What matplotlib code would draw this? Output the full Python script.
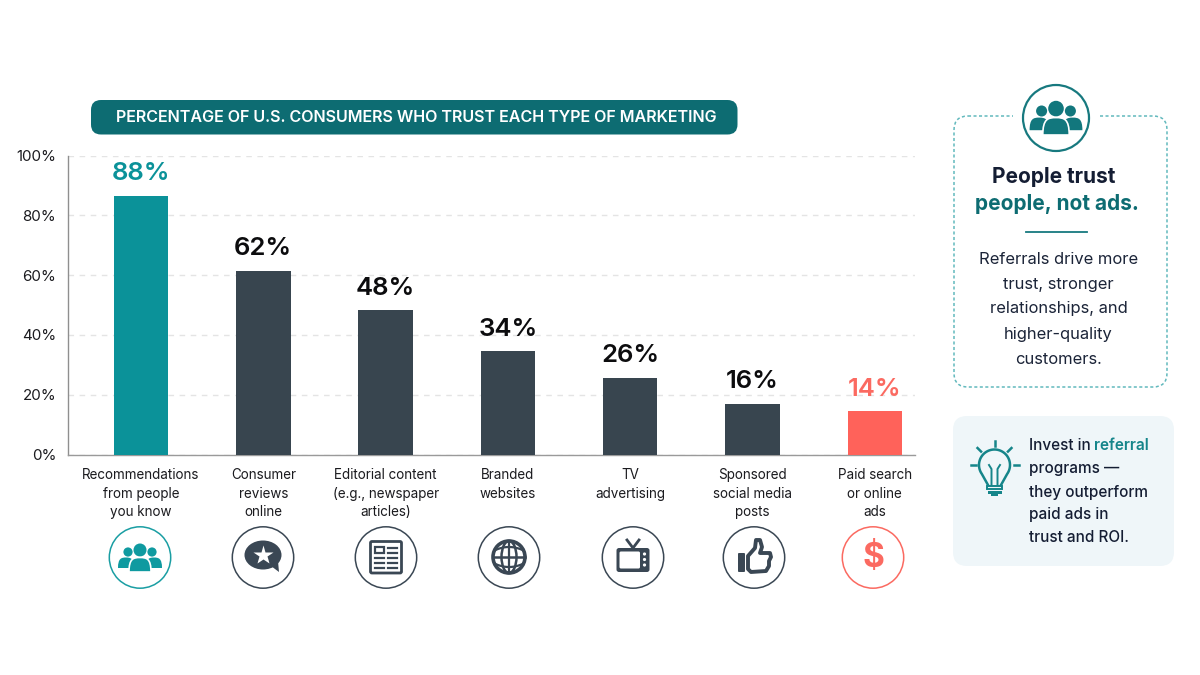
import numpy as np
import matplotlib
matplotlib.use('Agg')
import matplotlib.pyplot as plt
from matplotlib.patches import Circle, Ellipse, FancyBboxPatch, PathPatch, Polygon, Rectangle
from matplotlib.path import Path

plt.rcParams['font.family'] = ['Inter', 'DejaVu Sans']

# datos
categorias = ['Recommendations\nfrom people\nyou know', 'Consumer\nreviews\nonline',
              'Editorial content\n(e.g., newspaper\narticles)', 'Branded\nwebsites',
              'TV\nadvertising', 'Sponsored\nsocial media\nposts', 'Paid search\nor online\nads']
alturas = [86.5, 61.5, 48.2, 34.6, 25.7, 17.0, 14.5]
etiquetas = ['88%', '62%', '48%', '34%', '26%', '16%', '14%']
ticks_y = [0, 20, 40, 60, 80, 100]

TEAL = '#0b9299'
TEAL_OSC = '#0d6c72'
GRIS = '#38454f'
CORAL = '#ff625a'
NAVY = '#141d33'
colores = [TEAL, GRIS, GRIS, GRIS, GRIS, GRIS, CORAL]
colores_txt = [TEAL, '#0c0c0e', '#0c0c0e', '#0c0c0e', '#0c0c0e', '#0c0c0e', '#fb6a61']
colores_icono = ['#1a9ea3', '#3a4754', '#3a4754', '#3a4754', '#3a4754', '#3a4754', '#fb6a61']

fig = plt.figure(figsize=(12, 6.75), dpi=100, facecolor='white')

# ---------- grafica de barras ----------
ax = fig.add_axes([68/1200, 1-454.5/675, (915-68)/1200, (454.5-155.5)/675])
x = np.arange(len(alturas))
barras = ax.bar(x, alturas, width=0.445, color=colores, zorder=3)
ax.set_xlim(-0.597, 6.329)
ax.set_ylim(0, 100)
ax.set_yticks(ticks_y)
ax.set_yticklabels([f'{t}%' for t in ticks_y], fontsize=10.9, color='#1b1b1f')
ax.tick_params(axis='y', length=0, pad=8.5)
ax.set_xticks([])
ax.grid(axis='y', color='#e4e4e4', linestyle=(0, (4, 4)), linewidth=1, zorder=0)
for lado in ['top', 'right']:
    ax.spines[lado].set_visible(False)
ax.spines['left'].set_color('#8f8f8f')
ax.spines['bottom'].set_color('#9a9a9a')
ax.spines['left'].set_linewidth(1)
ax.spines['bottom'].set_linewidth(1)

for b, et, c in zip(barras, etiquetas, colores_txt):
    ax.annotate(et, (b.get_x()+b.get_width()/2, b.get_height()), xytext=(0, 7.5),
                textcoords='offset points', ha='center', va='bottom', fontsize=18.5,
                fontweight='semibold', color=c)

for i, cat in enumerate(categorias):
    ax.annotate(cat, (i, 0), xytext=(0, -10), textcoords='offset points', ha='center', va='top',
                fontsize=9.7, color='#1b1b1f', linespacing=1.4, annotation_clip=False)

# ---------- capa en pixeles para adornos ----------
ov = fig.add_axes([0, 0, 1, 1], facecolor='none')
ov.set_xlim(0, 1200)
ov.set_ylim(675, 0)
ov.axis('off')


def caja(x0, y0, x1, y1, r, **kw):
    p = FancyBboxPatch((x0+r, y0+r), x1-x0-2*r, y1-y0-2*r, boxstyle=f'round,pad={r},rounding_size={r}', **kw)
    ov.add_patch(p)
    return p


def cuerpo(cx, arriba, abajo, hw, color, zorder=5, borde=None):
    verts = [(cx-hw, abajo), (cx-hw, arriba+1), (cx-hw*0.6, arriba), (cx, arriba),
             (cx+hw*0.6, arriba), (cx+hw, arriba+1), (cx+hw, abajo), (cx-hw, abajo)]
    codes = [Path.MOVETO, Path.CURVE4, Path.CURVE4, Path.CURVE4, Path.CURVE4, Path.CURVE4, Path.CURVE4, Path.CLOSEPOLY]
    ov.add_patch(PathPatch(Path(verts, codes), fc=color, ec=borde or 'none', lw=1.2 if borde else 0, zorder=zorder))


def gente(cx, cy, color, s=1.0):
    for d in (-12, 12):
        ov.add_patch(Circle((cx+d*s, cy-5*s), 4.6*s, fc=color, ec='none', zorder=5))
        cuerpo(cx+d*s-(2*s if d < 0 else -2*s), cy+0.5*s, cy+11*s, 8*s, color)
    ov.add_patch(Circle((cx, cy-7*s), 6.5*s, fc=color, ec='none', zorder=6))
    cuerpo(cx, cy+0.5*s, cy+15*s, 11*s, color, zorder=6, borde='white')


def burbuja(cx, cy, color):
    ov.add_patch(Ellipse((cx, cy-1), 37, 29, fc=color, ec='none', zorder=5))
    ov.add_patch(Polygon([(cx+8, cy+10), (cx+16, cy+16), (cx+15, cy+5)], fc=color, ec='none', zorder=5))
    ov.plot([cx], [cy-1], marker='*', ms=15, color='white', mec='none', zorder=6)


def periodico(cx, cy, color):
    caja(cx-15.5, cy-15.5, cx+15.5, cy+16, 1.5, fc='white', ec=color, lw=2, zorder=5)
    ov.add_patch(Rectangle((cx-11, cy-10), 9, 6, fc='white', ec=color, lw=1.6, zorder=6))
    for yy in (-9, -4.5, 0.5, 5.5, 10.5):
        if yy >= 0:
            ov.plot([cx-11, cx-2], [cy+yy]*2, color=color, lw=1.6, zorder=6)
        ov.plot([cx+2, cx+11], [cy+yy]*2, color=color, lw=1.6, zorder=6)


def globo(cx, cy, color):
    ov.add_patch(Circle((cx, cy), 16, fc='white', ec=color, lw=2.6, zorder=5))
    ov.add_patch(Ellipse((cx, cy), 15, 32, fc='none', ec=color, lw=1.8, zorder=6))
    ov.plot([cx-16, cx+16], [cy, cy], color=color, lw=1.8, zorder=6)
    ov.plot([cx, cx], [cy-16, cy+16], color=color, lw=1.6, zorder=6)
    t = np.linspace(-1, 1, 30)
    for sgn in (-1, 1):
        ov.plot(cx+13.5*t, cy+sgn*(10-3*t**2), color=color, lw=1.6, zorder=6)


def tele(cx, cy, color):
    caja(cx-16.5, cy-9, cx+16.5, cy+15, 2.5, fc=color, ec='none', zorder=5)
    ov.plot([cx-6, cx, cx+6], [cy-17, cy-9, cy-17], color=color, lw=2, zorder=5)
    caja(cx-13.5, cy-5.5, cx+7, cy+11.5, 1.5, fc='white', ec='none', zorder=6)
    for yy in (-3, 2.5, 8):
        ov.add_patch(Circle((cx+11.5, cy+yy), 1.6, fc='white', ec='none', zorder=6))


def pulgar(cx, cy, color):
    caja(cx-16, cy-4, cx-9, cy+15, 1, fc=color, ec='none', zorder=5)
    pts = [(cx-6, cy-1), (cx+1, cy-9), (cx+2, cy-17), (cx+6, cy-17), (cx+8, cy-10), (cx+6, cy-4),
           (cx+16, cy-4), (cx+17, cy), (cx+15, cy+4), (cx+15, cy+9), (cx+12, cy+14), (cx-3, cy+15), (cx-6, cy+12)]
    ov.add_patch(Polygon(pts, closed=True, fc='white', ec=color, lw=2.8, joinstyle='round', zorder=5))


def foco(cx, cy, color):
    t = np.linspace(np.radians(-35), np.radians(215), 60)
    r = 15.5
    xs = cx+r*np.cos(t)
    ys = cy-r*np.sin(t)
    ov.plot(np.r_[cx-6.5, xs[::-1], cx+6.5], np.r_[cy+20, ys[::-1], cy+20], color=color, lw=1.8, zorder=5)
    ov.plot([cx-3, cx-3, cx-5.5], [cy+20, cy+4, cy], color=color, lw=1.4, zorder=5)
    ov.plot([cx+3, cx+3, cx+5.5], [cy+20, cy+4, cy], color=color, lw=1.4, zorder=5)
    ov.add_patch(Rectangle((cx-7.5, cy+21), 15, 3, fc='none', ec=color, lw=1.4, zorder=5))
    ov.add_patch(Rectangle((cx-7, cy+25.5), 14, 3, fc=color, ec='none', zorder=5))
    ov.add_patch(Rectangle((cx-3.5, cy+28.5), 7, 2, fc=color, ec='none', zorder=5))
    for a in (90, 45, 135, 0, 180):
        ra = np.radians(a)
        ov.plot([cx+19*np.cos(ra), cx+24*np.cos(ra)], [cy-19*np.sin(ra), cy-24*np.sin(ra)],
                color=color, lw=1.8, zorder=5)


# ---------- titulo ----------
caja(91, 100, 737.5, 134.5, 10, fc=TEAL_OSC, ec='none', zorder=2)
ov.text(416.5, 118, 'PERCENTAGE OF U.S. CONSUMERS WHO TRUST EACH TYPE OF MARKETING', ha='center', va='center',
        color='white', fontsize=11.6, fontweight='semibold', zorder=3)

# ---------- iconos de categorias ----------
cx_iconos = [140, 263, 386, 509, 633, 754, 873]
for cx, c in zip(cx_iconos, colores_icono):
    ov.add_patch(Circle((cx, 557.5), 30.7, fc='white', ec=c, lw=1.1, zorder=4))
gente(cx_iconos[0], 557, '#0f9aa0')
burbuja(cx_iconos[1], 556, colores_icono[1])
periodico(cx_iconos[2], 557, colores_icono[2])
globo(cx_iconos[3], 557, colores_icono[3])
tele(cx_iconos[4], 557, colores_icono[4])
pulgar(cx_iconos[5], 557, colores_icono[5])
ov.text(cx_iconos[6], 558, '$', ha='center', va='center', fontsize=24, fontweight='bold', color=colores_icono[6], zorder=5)

# ---------- tarjeta derecha superior ----------
caja(954, 116, 1167, 387, 14, fc='white', ec='#62b9bd', lw=1.1, ls=(0, (2, 1.6)), zorder=1)
ov.add_patch(Rectangle((1013, 110), 87, 12, fc='white', ec='none', zorder=2))
ov.add_patch(Circle((1056, 118), 33, fc='white', ec='#17797f', lw=1.6, zorder=3))
gente(1056, 117, '#12777d', s=1.2)
ov.text(1054, 177, 'People trust', ha='center', va='center', fontsize=15, fontweight='bold', color=NAVY)
ov.text(1056.5, 204, 'people, not ads.', ha='center', va='center', fontsize=15, fontweight='bold', color=TEAL_OSC)
ov.plot([1026, 1087], [231.5, 231.5], color='#17797f', lw=1.3)
for yy, linea in zip([259, 284, 309, 334, 359], ['Referrals drive more', 'trust, stronger', 'relationships, and', 'higher-quality', 'customers.']):
    ov.text(1058.5, yy, linea, ha='center', va='center', fontsize=11.9, color='#1b2438')

# ---------- tarjeta derecha inferior ----------
caja(953, 416, 1174, 566, 14, fc='#eff6f9', ec='none', zorder=1)
foco(994.5, 465, '#15858a')
for yy, linea in zip([446, 469, 492, 515, 537], ['Invest in', 'programs —', 'they outperform', 'paid ads in', 'trust and ROI.']):
    ov.text(1029, yy, linea, ha='left', va='center', fontsize=11, color=NAVY, fontweight='medium')
ov.text(1094, 446, 'referral', ha='left', va='center', fontsize=11, color='#15858a', fontweight='semibold')

fig.savefig('out.png', dpi=100)
